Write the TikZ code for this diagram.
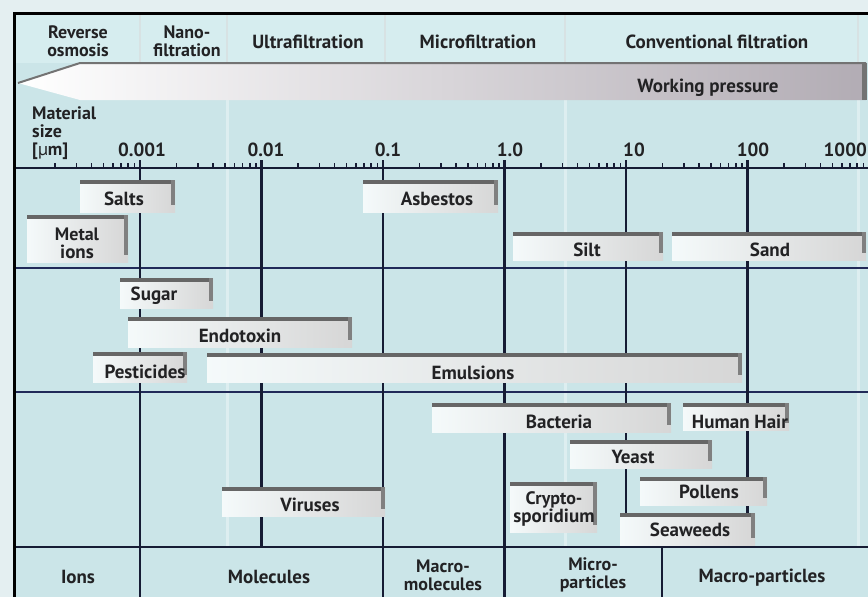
\documentclass[tikz,border=0pt]{standalone}
\usepackage{fontspec}
\setmainfont{PT Sans}[BoldFont={PT Sans Bold}]
\definecolor{bgc}{RGB}{203,229,232}
\definecolor{hdr}{RGB}{214,237,239}
\definecolor{marg}{RGB}{228,239,241}
\definecolor{navy}{RGB}{22,28,52}
\definecolor{hnavy}{RGB}{32,42,88}
\definecolor{textc}{RGB}{34,34,36}
\definecolor{pressR}{RGB}{178,172,180}
\newcommand\mybar[8]{%
  \fill[barbody] (#1,#2) rectangle (#3,#4);
  \fill[bartop] (#1,#2) rectangle (#3,#2+4);
  \fill[barright] (#3-4,#2) rectangle (#3,#4-7);
  \node[lbl] (#5) at (#6,#7) {#8};}
\begin{document}
\begin{tikzpicture}[x=1pt,y=-1pt,
  lbl/.style={text=textc, align=center, inner sep=0pt, font=\bfseries\fontsize{19}{18}\selectfont},
  lbltwo/.style={lbl, font=\bfseries\fontsize{18}{18}\selectfont},
  declinestyle/.style={line width=2.4pt, draw=navy},
  hlinestyle/.style={line width=2.4pt, draw=hnavy},
  barbody/.style={left color=white!80!bgc, right color=black!16},
  bartop/.style={fill=black!60},
  barright/.style={fill=black!50},
  faint/.style={line width=3pt, draw=white, opacity=0.35},
  framestyle/.style={line width=3pt, draw=black}]
\useasboundingbox (0,0) rectangle (868,597);
% margins and backgrounds
\fill[marg] (0,0) rectangle (868,597);
\fill[bgc] (14,13) rectangle (868,597);
\fill[hdr] (14,13) rectangle (868,63);
% header separators
\foreach \xs in {140,227,385,565,858}
  \draw[line width=2pt, draw=white!70!gray, opacity=0.5] (\xs,14) -- (\xs,62);
% faint texture lines in chart
\foreach \xs in {227,565,858}
  \draw[faint] (\xs,100) -- (\xs,547);
% working pressure wedge
\shade[left color=white, right color=pressR] (18,83) -- (80,63) -- (866,63) -- (866,100) -- (80,100) -- cycle;
\draw[line width=2pt, draw=black!55] (18,83) -- (80,63) -- (866,63);
\fill[black!55] (862,63) rectangle (867,100);
% header texts
\node[lbltwo] (ro) at (78,41) {Reverse\\osmosis};
\node[lbltwo] (nf) at (187,41) {Nano-\\filtration};
\node[lbl] (uf) at (308,42) {Ultrafiltration};
\node[lbl] (mf) at (478,42) {Microfiltration};
\node[lbl] (cf) at (717,42) {Conventional filtration};
\node[lbl] (wp) at (708,88) {Working pressure};
% material size label
\node[lbltwo, anchor=north west, align=left] (ms) at (32,107) {Material\\size\\{[}\textmd{µ}m{]}};
% horizontal separators
\draw[hlinestyle] (14,268) -- (868,268);
\draw[hlinestyle] (14,392) -- (868,392);
\draw[line width=2.8pt, draw=navy] (14,547) -- (868,547);
% decade vertical lines
\draw[declinestyle] (140,160) -- (140,597);
\draw[declinestyle] (261.5,160) -- (261.5,547);
\draw[declinestyle] (383,160) -- (383,597);
\draw[declinestyle] (504.5,160) -- (504.5,597);
\draw[declinestyle] (626,160) -- (626,547);
\draw[declinestyle] (747.5,160) -- (747.5,547);
\draw[declinestyle] (662,547) -- (662,597);
% axis
\draw[line width=2pt, draw=navy] (14,168) -- (868,168);
\foreach \d in {18.5,140,261.5,383,504.5,626,747.5}
  \foreach \k in {2,...,9}{
    \pgfmathsetmacro\xx{\d+121.5*log10(\k)}
    \draw[line width=1.6pt, draw=navy] (\xx,163) -- (\xx,168);
  }
% tick labels
\node[lbl] (t1) at (142,150) {0.001};
\node[lbl] (t2) at (266,150) {0.01};
\node[lbl] (t3) at (388,150) {0.1};
\node[lbl] (t4) at (510,150) {1.0};
\node[lbl] (t5) at (634,150) {10};
\node[lbl] (t6) at (753,150) {100};
\node[lbl, anchor=east] (t7) at (867,150) {1000};
% bars
\mybar{80}{180}{175}{212}{salts}{124}{199}{Salts}
\mybar{363}{180}{498}{212}{asbestos}{437}{199}{Asbestos}
\mybar{27}{215}{128}{262}{metal}{77}{243}{\fontsize{18}{18}\selectfont Metal\\ions}
\mybar{513}{232}{663}{260}{silt}{587}{250}{Silt}
\mybar{672}{232}{866}{260}{sand}{770}{250}{Sand}
\mybar{120}{278}{213}{308}{sugar}{154}{296}{Sugar}
\mybar{128}{317}{352}{347}{endotoxin}{240}{336}{Endotoxin}
\mybar{93}{352}{187}{382}{pesticides}{145}{372}{Pesticides}
\mybar{207}{353}{742}{382}{emulsions}{473}{373}{Emulsions}
\mybar{432}{403}{671}{432}{bacteria}{559}{422}{Bacteria}
\mybar{683}{403}{789}{430}{hair}{740}{422}{Human Hair}
\mybar{570}{440}{712}{468}{yeast}{633}{457}{Yeast}
\mybar{640}{477}{767}{505}{pollens}{709}{492}{Pollens}
\mybar{510}{482}{597}{532}{crypto}{554}{509}{\fontsize{18}{18}\selectfont Crypto-\\sporidium}
\mybar{620}{513}{755}{545}{seaweeds}{690}{530}{Seaweeds}
\mybar{222}{487}{385}{516}{viruses}{310}{505}{Viruses}
% bottom row labels
\node[lbl] (ions) at (78,577) {Ions};
\node[lbl] (molecules) at (269,577) {Molecules};
\node[lbltwo] (macromol) at (443,575) {Macro-\\molecules};
\node[lbltwo] (micropart) at (593,575) {Micro-\\particles};
\node[lbl] (macropart) at (762,578) {Macro-particles};
% frame
\draw[framestyle] (14,597) -- (14,13) -- (868,13);
\end{tikzpicture}
\end{document}
